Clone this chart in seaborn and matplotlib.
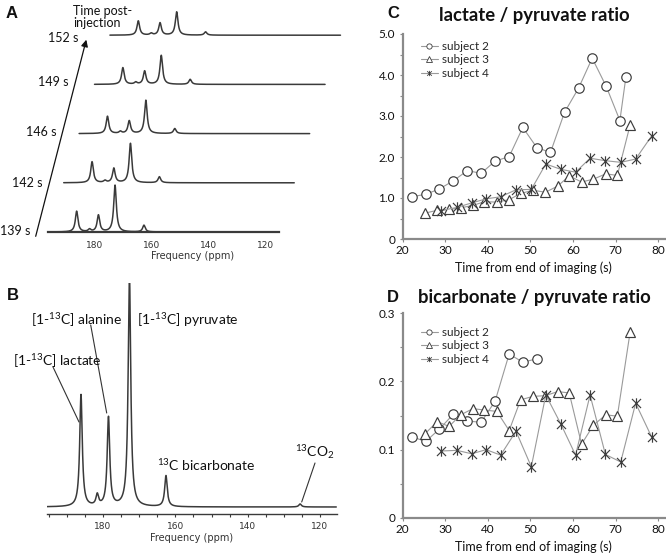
import numpy as np
import matplotlib
matplotlib.use("Agg")
import matplotlib.pyplot as plt
from matplotlib.lines import Line2D
from matplotlib.path import Path
from matplotlib.patches import FancyArrowPatch
from matplotlib.ticker import MultipleLocator
import seaborn as sns

# ---- spectra (peak positions in ppm, heights in a.u.) ----
peak_ppm = [186.1, 181.6, 178.5, 172.7, 162.6, 125.5]
time_labels = ['139 s', '142 s', '146 s', '149 s', '152 s']
lactate_h = [20.7, 21.0, 17.3, 16.7, 14.3]
small_h = [2.4, 2.0, 2.0, 2.0, 1.8]
alanine_h = [16.7, 14.4, 12.7, 13.3, 12.3]
pyruvate_h = [46.7, 39.4, 33.3, 29.0, 23.3]
bicarb_h = [6.7, 6.0, 5.0, 5.0, 3.3]
co2_h = [0.0, 0.0, 0.0, 0.0, 0.0]
sum_h = [112, 11, 89, 232, 31, 3]   # summed spectrum, panel B
ppm_ticks = [180, 160, 140, 120]

# ---- metabolite ratios ----
s2_time = [22.1, 25.4, 28.6, 31.9, 35.2, 38.4, 41.7, 45.0, 48.2, 51.5, 54.7, 58.0,
           61.3, 64.5, 67.8, 71.0, 72.4]
s2_lac = [1.03, 1.09, 1.22, 1.42, 1.67, 1.60, 1.90, 2.01, 2.72, 2.23, 2.11, 3.09,
          3.68, 4.41, 3.72, 2.89, 3.94]
s2_bic = [0.119, 0.112, 0.130, 0.152, 0.142, 0.140, 0.171, 0.240, 0.228, 0.233]

s3_time = [25.2, 28.1, 30.9, 33.6, 36.5, 39.2, 42.1, 45.0, 47.7, 50.6, 53.5, 56.4,
           59.1, 62.0, 64.8, 67.7, 70.4, 73.4]
s3_lac = [0.63, 0.70, 0.72, 0.76, 0.82, 0.91, 0.90, 0.96, 1.11, 1.19, 1.14, 1.29,
          1.54, 1.39, 1.46, 1.59, 1.55, 2.78]
s3_bic = [0.123, 0.141, 0.134, 0.151, 0.160, 0.158, 0.156, 0.128, 0.173, 0.178, 0.179,
          0.185, 0.183, 0.108, 0.136, 0.151, 0.149, 0.272]

s4_time = [28.9, 32.7, 36.2, 39.6, 43.0, 46.6, 50.2, 53.6, 57.1, 60.6, 64.0, 67.6,
           71.2, 74.7, 78.5]
s4_lac = [0.69, 0.77, 0.88, 0.98, 1.03, 1.20, 1.21, 1.83, 1.70, 1.63, 1.97, 1.91,
          1.87, 1.95, 2.52]
s4_bic = [0.098, 0.099, 0.094, 0.100, 0.092, 0.127, 0.075, 0.180, 0.138, 0.092, 0.180,
          0.093, 0.082, 0.168, 0.118]

subjects = ['subject 2', 'subject 3', 'subject 4']

W, H = 666, 553


def px(x, y):
    return (x / W, 1 - y / H)


def box(left, top, right, bottom):
    return [left / W, 1 - bottom / H, (right - left) / W, (bottom - top) / H]


def spectrum(x, heights, fwhm):
    y = np.zeros_like(x)
    for x0, h in zip(peak_ppm, heights):
        y += h / (1 + ((x - x0) / (fwhm / 2)) ** 2)
    return y


# excel-like star marker: an X with a vertical stroke
star = Path([(-1, -1), (1, 1), (-1, 1), (1, -1), (0, -1.15), (0, 1.15)],
            [Path.MOVETO, Path.LINETO, Path.MOVETO, Path.LINETO, Path.MOVETO, Path.LINETO])

sns.set_style('white')
plt.rcParams['font.family'] = ['Lato', 'DejaVu Sans']
plt.rcParams['mathtext.fontset'] = 'custom'
plt.rcParams['mathtext.rm'] = 'Lato'
plt.rcParams['mathtext.it'] = 'Lato:italic'
plt.rcParams['mathtext.bf'] = 'Lato:bold'

fig = plt.figure(figsize=(W / 100, H / 100), dpi=100)
spec_c = '#3a3a3a'
freq = np.linspace(196, 115.5, 4000)

# ---------------- panel A ----------------
axA = fig.add_axes(box(40, 0, 345, 232))
axA.set_xlim(198.9, 92.4)
axA.set_ylim(0, 232)
for k in range(len(time_labels)):
    hts = [lactate_h[k], small_h[k], alanine_h[k], pyruvate_h[k], bicarb_h[k], co2_h[k]]
    axA.plot(freq - k * 5.38, k * 49.2 + spectrum(freq, hts, 1.1),
             color=spec_c, lw=1.1, clip_on=False)
for s in ['top', 'right', 'left']:
    axA.spines[s].set_visible(False)
axA.spines['bottom'].set_bounds(196, 115.5)
axA.spines['bottom'].set_color(spec_c)
axA.spines['bottom'].set_linewidth(1.6)
axA.set_yticks([])
axA.set_xticks(ppm_ticks, labels=[str(t) for t in ppm_ticks],
               fontsize=6.5, fontfamily='DejaVu Sans')
axA.tick_params(axis='x', length=0, pad=6.5, labelcolor='#333')
axA.set_xlabel('Frequency (ppm)', fontsize=7, fontfamily='DejaVu Sans',
               labelpad=1, color='#333')
axA.patch.set_alpha(0)

label_pos = [(30, 231), (43, 183), (56, 132), (68, 82), (78, 38)]
for lab, (lx, ly) in zip(time_labels, label_pos):
    fig.text(*px(lx, ly), lab, ha='right', va='center', fontsize=9, color='#111')
fig.text(*px(73, 17), 'Time post-\ninjection', ha='left', va='center',
         fontsize=9, linespacing=0.95, color='#111')
fig.add_artist(FancyArrowPatch(
    px(35, 239), px(87, 37), transform=fig.transFigure, arrowstyle='-|>',
    mutation_scale=10, color='#111', lw=0.9))

# ---------------- panel B ----------------
axB = fig.add_axes(box(47, 283, 337, 514))
axB.set_xlim(195.5, 115.3)
axB.set_ylim(-7, 224)
axB.plot(freq, spectrum(freq, sum_h, 0.85), color=spec_c, lw=1.1)
for s in ['top', 'right', 'left']:
    axB.spines[s].set_visible(False)
axB.spines['bottom'].set_color(spec_c)
axB.spines['bottom'].set_linewidth(1.0)
axB.set_yticks([])
axB.set_xticks(ppm_ticks, labels=[str(t) for t in ppm_ticks],
               fontsize=6.5, fontfamily='DejaVu Sans')
axB.xaxis.set_minor_locator(MultipleLocator(5))
axB.tick_params(axis='x', which='both', direction='out', length=2.5, width=0.8,
                color=spec_c, pad=3.5, labelcolor='#333', bottom=True)
axB.set_xlabel('Frequency (ppm)', fontsize=7, fontfamily='DejaVu Sans',
               labelpad=1.5, color='#333')
axB.patch.set_alpha(0)

lab_kw = dict(fontsize=10, color='#111', va='center')
fig.text(*px(13, 361), r'[1-$^{13}$C] lactate', ha='left', **lab_kw)
fig.text(*px(122, 320), r'[1-$^{13}$C] alanine', ha='right', **lab_kw)
fig.text(*px(137, 320), r'[1-$^{13}$C] pyruvate', ha='left', **lab_kw)
fig.text(*px(157, 465), r'$^{13}$C bicarbonate', ha='left', **lab_kw)
fig.text(*px(295, 452), r'$^{13}$CO$_2$', ha='left', **lab_kw)
for (x0, y0), (x1, y1) in [((53, 367), (79, 422)), ((90.7, 325), (106.7, 413)),
                           ((315, 463), (301.7, 502))]:
    fig.add_artist(Line2D([x0 / W, x1 / W], [1 - y0 / H, 1 - y1 / H],
                          color='#333', lw=0.8))

# ---------------- panels C and D ----------------
line_c = '#9a9a9a'
edge_c = '#3c3c3c'
styles = [dict(marker='o', markersize=6.8, markerfacecolor='white'),
          dict(marker='^', markersize=7.5, markerfacecolor='white'),
          dict(marker=star, markersize=7.5, markerfacecolor='none')]
ratio_sets = [
    (box(402.7, 34, 664.6, 239), 'lactate / pyruvate ratio',
     [(s2_time, s2_lac), (s3_time, s3_lac), (s4_time, s4_lac)],
     (0, 5), np.arange(0, 5.1, 1.0), ['0', '1.0', '2.0', '3.0', '4.0', '5.0'], 0.5,
     (421, 41), 15),
    (box(402.7, 313, 664.6, 518), 'bicarbonate / pyruvate ratio',
     [(s2_time[:len(s2_bic)], s2_bic), (s3_time, s3_bic), (s4_time, s4_bic)],
     (0, 0.3), [0, 0.1, 0.2, 0.3], ['0', '0.1', '0.2', '0.3'], 0.05,
     (421, 327), 298),
]
for pos, title, series, ylim, yt, ytl, yminor, leg_xy, title_y in ratio_sets:
    ax = fig.add_axes(pos)
    for (xs, ys), st, name in zip(series, styles, subjects):
        sns.lineplot(x=xs, y=ys, ax=ax, color=line_c, lw=0.8, sort=False,
                     markeredgecolor=edge_c, markeredgewidth=0.85, legend=False,
                     clip_on=False, **st)
    ax.set_xlim(20, 81.5)
    ax.set_ylim(*ylim)
    ax.set_xticks(range(20, 81, 10))
    ax.set_yticks(yt, labels=ytl)
    ax.yaxis.set_minor_locator(MultipleLocator(yminor))
    for s in ['top', 'right']:
        ax.spines[s].set_visible(False)
    for s in ['left', 'bottom']:
        ax.spines[s].set_color('#8a8a8a')
        ax.spines[s].set_linewidth(1.6)
    ax.tick_params(which='both', direction='out', length=2.5, width=0.8,
                   color='#8a8a8a', labelsize=8.5, labelcolor='#111',
                   left=True, bottom=True)
    ax.tick_params(axis='x', pad=2)
    ax.tick_params(axis='y', pad=3)
    ax.set_xlabel('Time from end of imaging (s)', fontsize=9, labelpad=3.5,
                  color='#111')
    ax.set_ylabel('')
    fig.text(*px(534, title_y), title, ha='center', va='center', fontsize=13.3,
             fontweight='bold', color='#111')
    handles = [Line2D([], [], color=line_c, lw=0.8, markeredgecolor=edge_c,
                      markeredgewidth=0.6,
                      **{**st, 'markersize': 3.8}) for st in styles]
    ax.legend(handles, subjects, loc='upper left', bbox_to_anchor=px(*leg_xy),
              bbox_transform=fig.transFigure, frameon=False, fontsize=8.5,
              handlelength=1.4, handletextpad=0.35, labelspacing=0.2,
              borderpad=0, borderaxespad=0)

for letter, (lx, ly) in zip('ABCD', [(12, 13), (13, 295), (393, 13), (393, 297)]):
    fig.text(*px(lx, ly), letter, ha='center', va='center', fontsize=12,
             fontweight='bold', fontfamily='Liberation Sans', color='#111')

fig.savefig('out.png', dpi=100)
